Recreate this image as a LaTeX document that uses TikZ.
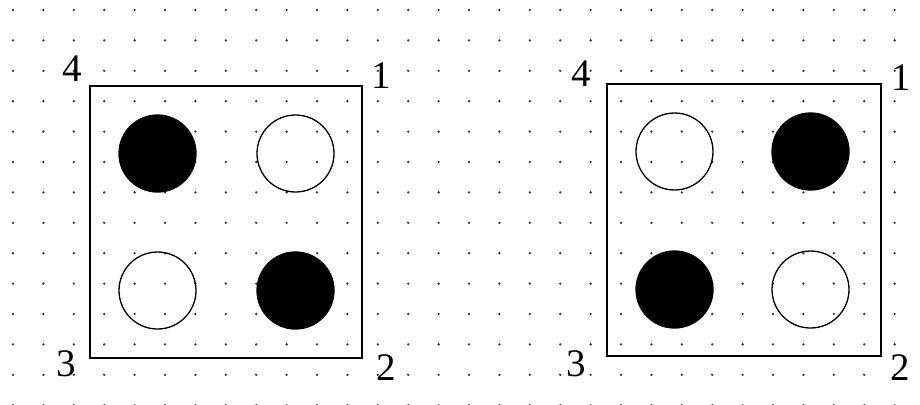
\documentclass[tikz,border=0pt]{standalone}
\usepackage{fontspec}
\setmainfont{Liberation Serif}
\begin{document}
\begin{tikzpicture}[x=1pt,y=-1pt,
  frame/.style={draw=black,line width=1.6pt},
  bead/.style={circle,minimum size=77pt,inner sep=0pt,line width=1.3pt},
  full/.style={bead,fill=black,draw=black},
  hollow/.style={bead,draw=black},
  corner/.style={inner sep=0pt,font=\fontsize{39}{39}\selectfont},
  griddot/.style={fill=black!80}]
\useasboundingbox (0,0) rectangle (920,404);
\fill[white] (0,0) rectangle (920,404);
% dotted grid background
\foreach \i in {0,...,30}{
  \foreach \j in {0,...,13}{
    \fill[griddot] ({13+30.4*\i},{10+30.4*\j}) circle (1.3pt);
  }
}
% left panel
\node[frame,minimum width=272pt,minimum height=272pt,inner sep=0pt] (L) at (226,222) {};
\node[full] (La) at (157.5,153.5) {};
\node[hollow] (Lb) at (295.5,153.5) {};
\node[hollow] (Lc) at (157.5,290.5) {};
\node[full] (Ld) at (295.5,290.5) {};
\node[corner] (L4) at (72,69) {4};
\node[corner] (L1) at (381,76) {1};
\node[corner] (L3) at (66,364) {3};
\node[corner] (L2) at (386,368) {2};
% right panel
\node[frame,minimum width=274pt,minimum height=272pt,inner sep=0pt] (R) at (744,220) {};
\node[hollow] (Ra) at (674.5,151.5) {};
\node[full] (Rb) at (810.5,151.5) {};
\node[full] (Rc) at (674.5,289.5) {};
\node[hollow] (Rd) at (810.5,289.5) {};
\node[corner] (R4) at (581,74) {4};
\node[corner] (R1) at (901,78) {1};
\node[corner] (R3) at (576,364) {3};
\node[corner] (R2) at (900,368) {2};
\end{tikzpicture}
\end{document}
